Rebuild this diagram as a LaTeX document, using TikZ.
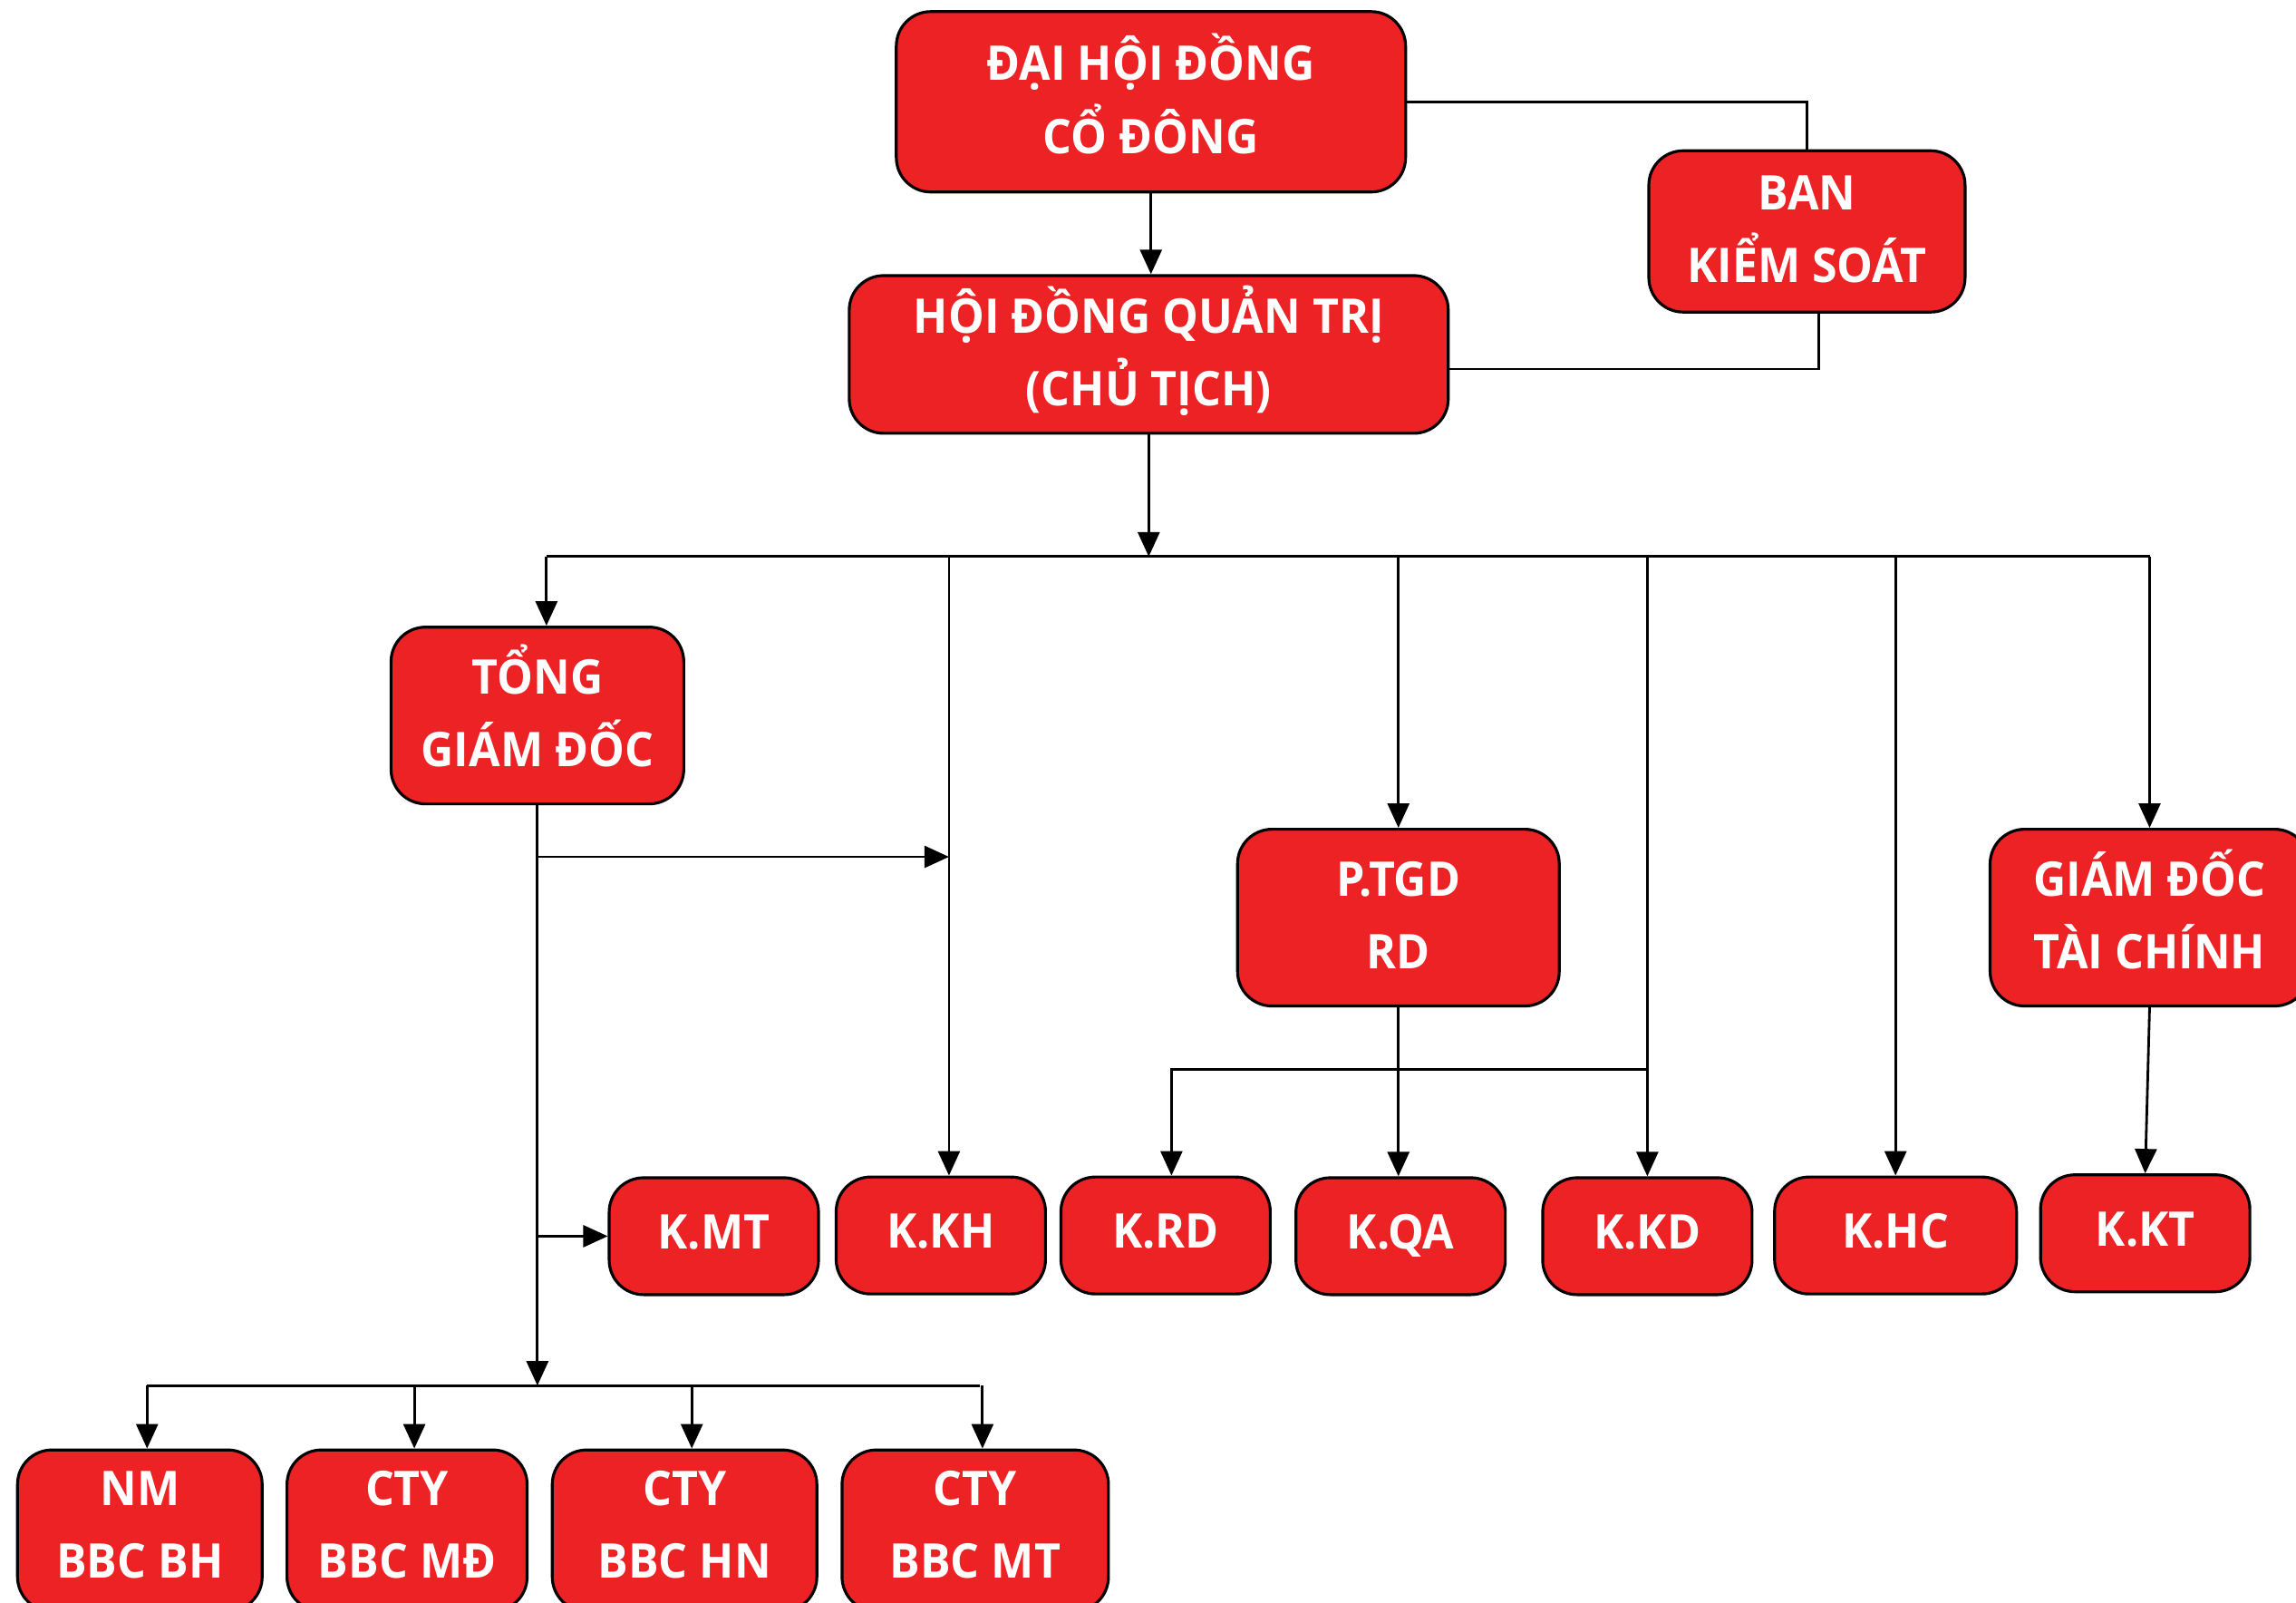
\documentclass[tikz,border=0pt]{standalone}
\usepackage{fontspec}
\setmainfont{Open Sans}[FakeStretch=0.95]
\usetikzlibrary{arrows.meta}
\definecolor{boxred}{HTML}{ED2224}

\begin{document}
\begin{tikzpicture}[x=0.016154cm,y=-0.016154cm,line width=0.8pt,
  main node/.style={rectangle,rounded corners=0.38cm,fill=boxred,draw=black,line width=0.9pt,
    text=white,font=\fontsize{15}{22.8}\selectfont\bfseries,align=center,inner sep=0pt,
    text height=33.5pt,text depth=1.2pt},
  small node/.style={main node,minimum width=2.31cm,minimum height=1.29cm,
    text height=10.7pt,text depth=2.8pt},
  low node/.style={main node,minimum height=1.78cm,text depth=3.6pt},
  arr/.style={-{Triangle[length=0.27cm,width=0.24cm]}}]

  \useasboundingbox (0,0) rectangle (1568,1094);

  % top levels
  \node[main node,minimum width=5.62cm,minimum height=1.99cm] (dhcd) at (786,69.5) {ĐẠI HỘI ĐỒNG\\CỔ ĐÔNG};
  \node[main node,minimum width=3.49cm,minimum height=1.78cm] (bks) at (1234,158) {BAN\\KIỂM SOÁT};
  \node[main node,minimum width=6.61cm,minimum height=1.74cm] (hdqt) at (784.5,242) {HỘI ĐỒNG QUẢN TRỊ\\(CHỦ TỊCH)};
  \node[main node,minimum width=3.23cm,minimum height=1.95cm] (tgd) at (367,488.5) {TỔNG\\GIÁM ĐỐC};
  \node[main node,minimum width=3.55cm,minimum height=1.95cm] (ptgd) at (955,626.5) {P.TGD\\RD};
  \node[main node,minimum width=3.52cm,minimum height=1.95cm] (gdtc) at (1468,626.5) {GIÁM ĐỐC\\TÀI CHÍNH};

  % khoi
  \node[small node] (kmt) at (487.5,844) {K.MT};
  \node[small node] (kkh) at (642.5,843.5) {K.KH};
  \node[small node] (krd) at (796,843.5) {K.RD};
  \node[small node] (kqa) at (956.5,844) {K.QA};
  \node[small node] (kkd) at (1125,844) {K.KD};
  \node[small node,minimum width=2.67cm] (khc) at (1294.5,843.5) {K.HC};
  \node[small node] (kkt) at (1465,842) {K.KT};

  % cong ty
  \node[low node,minimum width=2.70cm] (nm) at (95.5,1045) {NM\\BBC BH};
  \node[low node,minimum width=2.65cm] (ctymd) at (278,1045) {CTY\\BBC MĐ};
  \node[low node,minimum width=2.92cm] (ctyhn) at (467.5,1045) {CTY\\BBC HN};
  \node[low node,minimum width=2.94cm] (ctymt) at (666,1045) {CTY\\BBC MT};

  \coordinate (bus) at (786,380);
  \coordinate (rdj) at (1126,730);
  \coordinate (sub) at (368,946);
  \coordinate (tgdx) at ([xshift=0.1cm]tgd.north);
  \coordinate (khx) at ([xshift=0.09cm]kkh.north);
  \coordinate (rdx) at ([xshift=0.065cm]krd.north);

  \draw (dhcd.east) -| (bks.north);
  \draw[arr] (dhcd.south) -- (dhcd.south |- hdqt.north);
  \draw ([xshift=0.13cm]bks.south) |- ([yshift=-0.16cm]hdqt.east);

  \draw[arr] (hdqt.south) -- (hdqt.south |- bus);
  \draw (tgdx |- bus) -- (gdtc.north |- bus);
  \draw[arr] (tgdx |- bus) -- (tgdx);
  \draw[arr] (khx |- bus) -- (khx);
  \foreach \n in {ptgd,gdtc,kkd,khc}
    \draw[arr] (\n.north |- bus) -- (\n.north);

  \draw[arr] (kkd.north |- rdj) -| (rdx);
  \draw[arr] (ptgd.south) -- (ptgd.south |- kqa.north);
  \draw[arr] (gdtc.south) -- (kkt.north);

  \draw[arr] (tgd.south) -- (tgd.south |- sub);
  \draw[arr] (tgd.south |- 0,585) -- (khx |- 0,585);
  \draw[arr] (tgd.south |- kmt.west) -- (kmt.west);

  \draw ([xshift=0.08cm]nm.north |- sub) -- ([xshift=0.05cm]ctymt.north |- sub);
  \foreach \n in {nm,ctymd,ctyhn,ctymt}
    \draw[arr] ([xshift=0.08cm]\n.north |- sub) -- ([xshift=0.08cm]\n.north);
\end{tikzpicture}
\end{document}
